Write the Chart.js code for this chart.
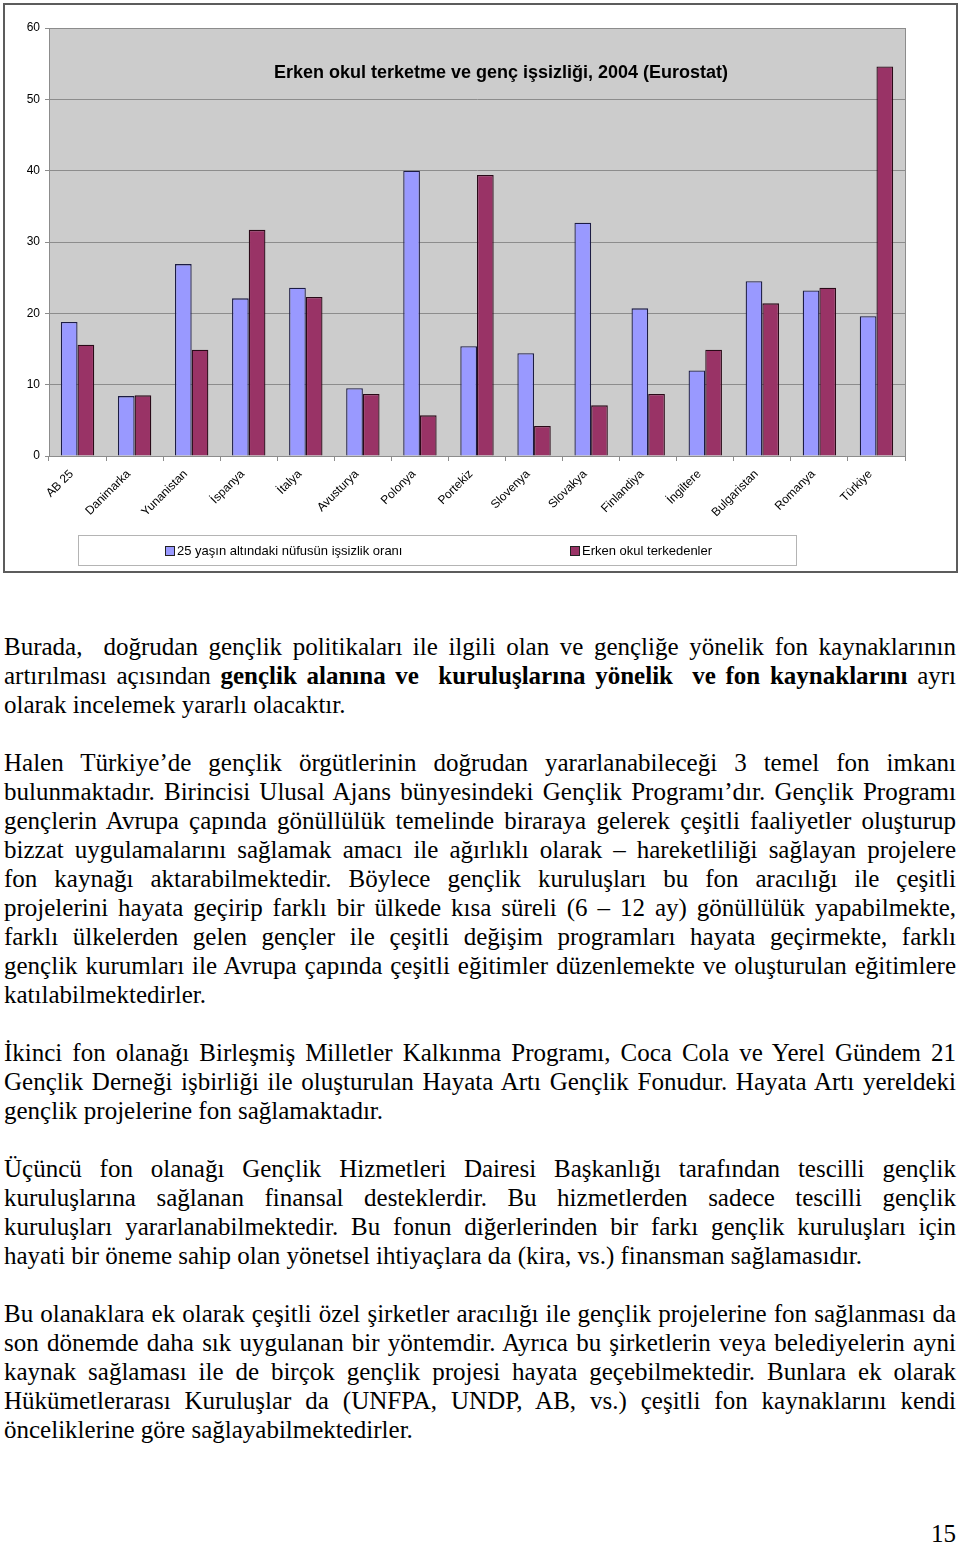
<!DOCTYPE html>
<html lang="tr">
<head>
<meta charset="utf-8">
<script src="https://cdn.jsdelivr.net/npm/chart.js@4.4.1/dist/chart.umd.min.js"></script>
<style>
  html, body { margin: 0; padding: 0; background: #fff; }
  body { width: 960px; height: 1545px; position: relative; overflow: hidden; }
  #frame { position: absolute; left: 3px; top: 3px; width: 951px; height: 566px; border: 2px solid #5c5c5c; background: #fff; }
  #chart { position: absolute; left: 0; top: 0; }
  #legend { position: absolute; left: 73px; top: 530px; width: 717px; height: 29px; border: 1px solid #b4b4b4;
            font-family: "Liberation Sans", Arial, sans-serif; font-size: 13px; color: #000; }
  .li { position: absolute; top: 0; height: 29px; line-height: 29px; white-space: nowrap; }
  .sw { display: inline-block; width: 8px; height: 8px; border: 1px solid #222; vertical-align: middle; margin-right: 2px; position: relative; top: -1px; }
  #text { position: absolute; left: 4px; top: 632px; width: 952px; font-family: "Liberation Serif", "Times New Roman", serif; font-size: 25px; color: #000; }
  .ln { height: 29px; line-height: 29px; text-align: justify; text-align-last: justify; white-space: nowrap; overflow: visible; }
  .ln.last { text-align: left; text-align-last: left; }
  .gap { height: 29px; }
  #pageno { position: absolute; right: 4px; top: 1519px; font-family: "Liberation Serif", "Times New Roman", serif; font-size: 25px; line-height: 29px; }
</style>
</head>
<body>
<div id="frame">
  <canvas id="chart" width="951" height="566"></canvas>
  <div id="legend"></div>
</div>
<div id="text">
  <div class="ln">Burada,&nbsp; doğrudan gençlik politikaları ile ilgili olan ve gençliğe yönelik fon kaynaklarının</div>
  <div class="ln">artırılması açısından <b>gençlik alanına ve&nbsp; kuruluşlarına yönelik&nbsp; ve fon kaynaklarını</b> ayrı</div>
  <div class="ln last">olarak incelemek yararlı olacaktır.</div>
  <div class="gap"></div>
  <div class="ln">Halen Türkiye’de gençlik örgütlerinin doğrudan yararlanabileceği 3 temel fon imkanı</div>
  <div class="ln">bulunmaktadır. Birincisi Ulusal Ajans bünyesindeki Gençlik Programı’dır. Gençlik Programı</div>
  <div class="ln">gençlerin Avrupa çapında gönüllülük temelinde biraraya gelerek çeşitli faaliyetler oluşturup</div>
  <div class="ln">bizzat uygulamalarını sağlamak amacı ile ağırlıklı olarak – hareketliliği sağlayan projelere</div>
  <div class="ln">fon kaynağı aktarabilmektedir. Böylece gençlik kuruluşları bu fon aracılığı ile çeşitli</div>
  <div class="ln">projelerini hayata geçirip farklı bir ülkede kısa süreli (6 – 12 ay) gönüllülük yapabilmekte,</div>
  <div class="ln">farklı ülkelerden gelen gençler ile çeşitli değişim programları hayata geçirmekte, farklı</div>
  <div class="ln">gençlik kurumları ile Avrupa çapında çeşitli eğitimler düzenlemekte ve oluşturulan eğitimlere</div>
  <div class="ln last">katılabilmektedirler.</div>
  <div class="gap"></div>
  <div class="ln">İkinci fon olanağı Birleşmiş Milletler Kalkınma Programı, Coca Cola ve Yerel Gündem 21</div>
  <div class="ln">Gençlik Derneği işbirliği ile oluşturulan Hayata Artı Gençlik Fonudur. Hayata Artı yereldeki</div>
  <div class="ln last">gençlik projelerine fon sağlamaktadır.</div>
  <div class="gap"></div>
  <div class="ln">Üçüncü fon olanağı Gençlik Hizmetleri Dairesi Başkanlığı tarafından tescilli gençlik</div>
  <div class="ln">kuruluşlarına sağlanan finansal desteklerdir. Bu hizmetlerden sadece tescilli gençlik</div>
  <div class="ln">kuruluşları yararlanabilmektedir. Bu fonun diğerlerinden bir farkı gençlik kuruluşları için</div>
  <div class="ln last">hayati bir öneme sahip olan yönetsel ihtiyaçlara da (kira, vs.) finansman sağlamasıdır.</div>
  <div class="gap"></div>
  <div class="ln">Bu olanaklara ek olarak çeşitli özel şirketler aracılığı ile gençlik projelerine fon sağlanması da</div>
  <div class="ln">son dönemde daha sık uygulanan bir yöntemdir. Ayrıca bu şirketlerin veya belediyelerin ayni</div>
  <div class="ln">kaynak sağlaması ile de birçok gençlik projesi hayata geçebilmektedir. Bunlara ek olarak</div>
  <div class="ln">Hükümetlerarası Kuruluşlar da (UNFPA, UNDP, AB, vs.) çeşitli fon kaynaklarını kendi</div>
  <div class="ln last">önceliklerine göre sağlayabilmektedirler.</div>
</div>
<div id="pageno">15</div>

<script>
// ---- Data ----
const chartTitle = 'Erken okul terketme ve genç işsizliği, 2004 (Eurostat)';
const categories = ['AB 25', 'Danimarka', 'Yunanistan', 'İspanya', 'İtalya', 'Avusturya', 'Polonya', 'Portekiz',
                    'Slovenya', 'Slovakya', 'Finlandiya', 'İngiltere', 'Bulgaristan', 'Romanya', 'Türkiye'];
const seriesNames = ['25 yaşın altındaki nüfusün işsizlik oranı', 'Erken okul terkedenler'];
const youthUnemployment = [18.8, 8.4, 26.9, 22.1, 23.6, 9.5, 40.0, 15.4, 14.4, 32.7, 20.7, 12.0, 24.5, 23.2, 19.6];
const earlySchoolLeavers = [15.6, 8.5, 14.9, 31.7, 22.3, 8.7, 5.7, 39.4, 4.2, 7.1, 8.7, 14.9, 21.4, 23.6, 54.6];
const yTicks = [0, 10, 20, 30, 40, 50, 60];

const seriesColors = ['#9999ff', '#993366'];
const seriesBorders = ['#1c1c44', '#2a0a18'];

// ---- Legend (HTML) ----
const legend = document.getElementById('legend');
const legendX = [86, 491];
seriesNames.forEach((name, i) => {
  const d = document.createElement('div');
  d.className = 'li';
  d.style.left = legendX[i] + 'px';
  const sw = document.createElement('span');
  sw.className = 'sw';
  sw.style.background = seriesColors[i];
  d.appendChild(sw);
  d.appendChild(document.createTextNode(name));
  legend.appendChild(d);
});

// ---- Plugins ----
const plotArea = {
  id: 'plotArea',
  beforeDraw(chart) {
    const { ctx, chartArea: a } = chart;
    ctx.save();
    ctx.fillStyle = '#cccccc';
    ctx.fillRect(a.left, a.top, a.width, a.height);
    ctx.restore();
  },
  beforeDatasetsDraw(chart) {
    const { ctx, chartArea: a } = chart;
    ctx.save();
    ctx.strokeStyle = '#8c8c8c';
    ctx.lineWidth = 1;
    ctx.strokeRect(Math.round(a.left) + 0.5, Math.round(a.top) + 0.5, Math.round(a.width), Math.round(a.height));
    ctx.restore();
  },
  afterDraw(chart) {
    const { ctx, chartArea: a } = chart;
    ctx.save();
    ctx.font = 'bold 18px "Liberation Sans", Arial, sans-serif';
    ctx.fillStyle = '#000';
    ctx.textAlign = 'center';
    ctx.textBaseline = 'middle';
    ctx.fillText(chartTitle, a.left + 452, a.top + 45);
    ctx.restore();
  }
};

new Chart(document.getElementById('chart'), {
  type: 'bar',
  data: {
    labels: categories,
    datasets: [
      { label: seriesNames[0], data: youthUnemployment, backgroundColor: seriesColors[0], borderColor: seriesBorders[0], borderWidth: 1.3 },
      { label: seriesNames[1], data: earlySchoolLeavers, backgroundColor: seriesColors[1], borderColor: seriesBorders[1], borderWidth: 1.3 }
    ]
  },
  options: {
    responsive: false,
    animation: false,
    devicePixelRatio: 1,
    layout: { padding: { left: 0, right: 51, top: 23, bottom: 35 } },
    datasets: { bar: { categoryPercentage: 0.585, barPercentage: 1.0 } },
    plugins: {
      legend: { display: false },
      title: { display: false, text: chartTitle },
      tooltip: { enabled: false }
    },
    scales: {
      x: {
        offset: true,
        grid: { display: true, drawOnChartArea: false, drawTicks: true, tickLength: 5, offset: true, color: '#8c8c8c' },
        border: { display: true, color: '#8c8c8c' },
        ticks: {
          minRotation: 45, maxRotation: 45, autoSkip: false, padding: 6, labelOffset: -6,
          color: '#000', font: { family: '"Liberation Sans", Arial, sans-serif', size: 12 }
        },
        afterFit(s) { s.height = 80; }
      },
      y: {
        min: 0, max: 60,
        afterBuildTicks(s) { s.ticks = yTicks.map(v => ({ value: v })); },
        grid: { color: '#8c8c8c', tickLength: 4, drawTicks: true },
        border: { display: true, color: '#8c8c8c' },
        ticks: { padding: 5, color: '#000', font: { family: '"Liberation Sans", Arial, sans-serif', size: 12 } },
        afterFit(s) { s.width = 44; }
      }
    }
  },
  plugins: [plotArea]
});
</script>
</body>
</html>
